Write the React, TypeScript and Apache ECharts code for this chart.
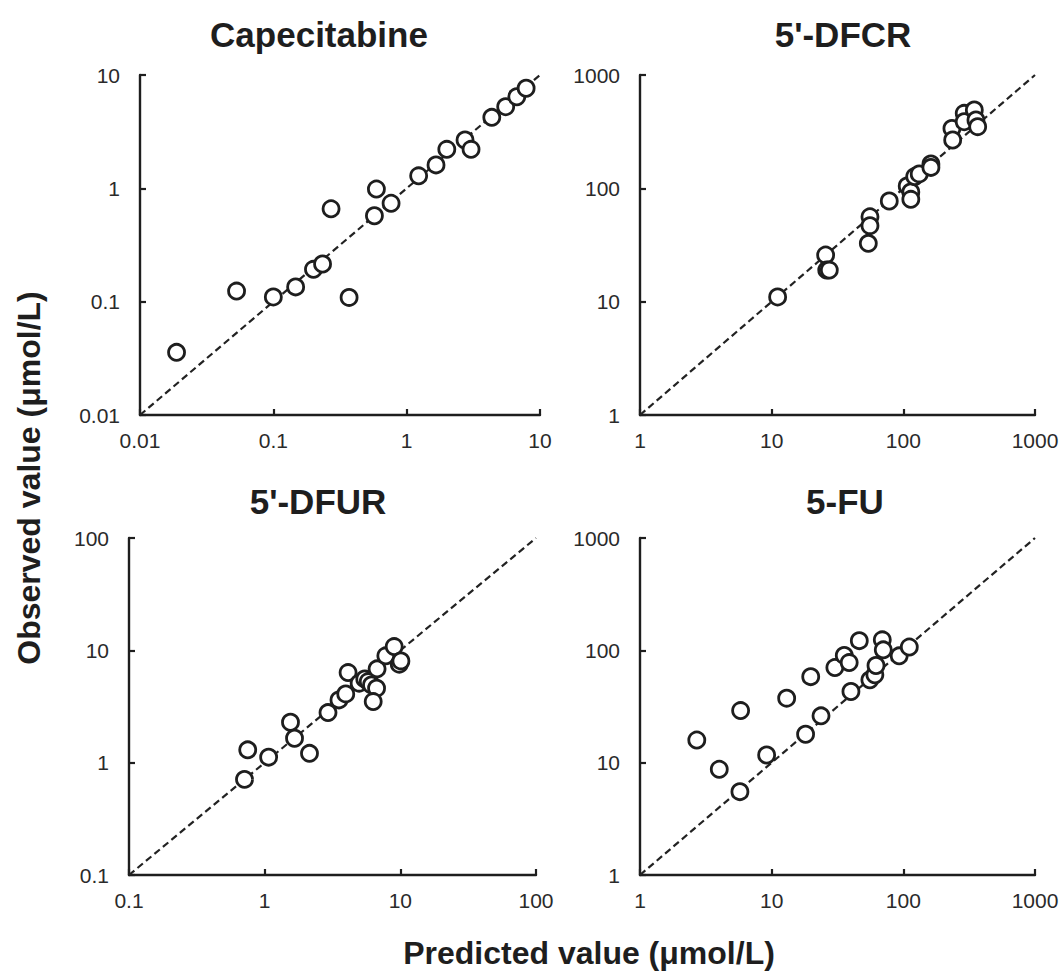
import React, { useEffect, useRef } from "react";
import * as echarts from "echarts";

// ---- Data ----
const titles = ["Capecitabine", "5'-DFCR", "5'-DFUR", "5-FU"];

const capRange = [0.01, 10];
const capX = [0.0188, 0.053, 0.1, 0.147, 0.2, 0.234, 0.271, 0.37, 0.573, 0.593, 0.764, 1.23, 1.66, 2.0, 2.74, 3.04, 4.35, 5.53, 6.7, 7.87];
const capY = [0.0357, 0.124, 0.11, 0.135, 0.193, 0.215, 0.66, 0.109, 0.573, 0.986, 0.738, 1.29, 1.61, 2.21, 2.67, 2.21, 4.23, 5.25, 6.43, 7.64];

const dfcrRange = [1, 1000];
const dfcrX = [11.1, 25.7, 26.2, 27.4, 55.8, 55.8, 54.2, 78.2, 107, 114, 114, 122, 132, 162, 162, 234, 237, 290, 290, 346, 356, 367];
const dfcrY = [11.0, 25.8, 19.0, 19.0, 56.1, 46.8, 32.7, 77.3, 105, 93, 80, 127, 134, 164, 153, 338, 267, 459, 387, 491, 401, 350];

const dfurRange = [0.1, 100];
const dfurX = [0.71, 0.75, 1.07, 1.55, 1.66, 2.14, 2.93, 3.53, 3.96, 4.12, 4.97, 5.47, 5.8, 6.13, 6.68, 6.31, 6.74, 7.82, 9.01, 9.82, 10.1];
const dfurY = [0.71, 1.3, 1.12, 2.29, 1.65, 1.21, 2.79, 3.62, 4.09, 6.34, 5.1, 5.57, 5.27, 4.92, 4.6, 3.5, 6.84, 8.94, 10.8, 7.53, 8.05];

const fuRange = [1, 1000];
const fuX = [2.7, 4.0, 5.74, 5.81, 9.16, 13.0, 18.1, 19.8, 23.7, 30.2, 35.6, 38.8, 40, 46.3, 55.7, 60.8, 62, 69.2, 70.4, 93, 111];
const fuY = [15.9, 8.73, 5.52, 29.1, 11.7, 37.5, 17.9, 58.3, 26.1, 70.3, 90, 77.8, 43, 122, 54.6, 60.5, 73.3, 124, 101, 89.3, 107];

const xAxisTitle = "Predicted value (μmol/L)";
const yAxisTitle = "Observed value (μmol/L)";

const panels = [
  { title: titles[0], range: capRange, xs: capX, ys: capY },
  { title: titles[1], range: dfcrRange, xs: dfcrX, ys: dfcrY },
  { title: titles[2], range: dfurRange, xs: dfurX, ys: dfurY },
  { title: titles[3], range: fuRange, xs: fuX, ys: fuY },
];

// ---- Layout ----
const grids = [
  { left: 140, top: 75, width: 400, height: 340 },
  { left: 640, top: 75, width: 395, height: 340 },
  { left: 129, top: 538, width: 407, height: 337 },
  { left: 640, top: 538, width: 395, height: 337 },
];
const titlePos = [
  { x: 314, y: 12 },
  { x: 838, y: 12 },
  { x: 313, y: 479 },
  { x: 840, y: 479 },
];

const FONT = '"Liberation Sans", Arial, Helvetica, sans-serif';
const INK = "#1e1e1e";

const fmt = (v: number) => String(Number(v.toPrecision(6)));

export default function App() {
  const ref = useRef<HTMLDivElement>(null);
  useEffect(() => {
    document.body.style.margin = "0";
    if (!ref.current) return;
    const chart = echarts.init(ref.current, undefined, { renderer: "svg" });

    const axisCommon = (range: number[]) => ({
      type: "log" as const,
      logBase: 10,
      min: range[0],
      max: range[1],
      interval: 1,
      axisLine: { show: true, lineStyle: { color: INK, width: 2.4 } },
      axisTick: { show: true, inside: true, length: 6, lineStyle: { color: INK, width: 2.2 } },
      splitLine: { show: false },
      axisLabel: {
        show: true,
        color: "#2a2a2a",
        fontSize: 21,
        fontFamily: FONT,
        formatter: (v: number) => fmt(v),
      },
    });

    const xAxis = panels.map((p, i) => ({
      ...axisCommon(p.range),
      gridIndex: i,
      axisLabel: { ...axisCommon(p.range).axisLabel, margin: 15 },
    }));
    const yAxis = panels.map((p, i) => ({
      ...axisCommon(p.range),
      gridIndex: i,
      axisLabel: { ...axisCommon(p.range).axisLabel, margin: 20 },
    }));

    const series: any[] = [];
    panels.forEach((p, i) => {
      series.push({
        type: "line",
        xAxisIndex: i,
        yAxisIndex: i,
        data: [
          [p.range[0], p.range[0]],
          [p.range[1], p.range[1]],
        ],
        symbol: "none",
        silent: true,
        z: 1,
        lineStyle: { color: "#222222", width: 2.2, type: [7, 4] },
      });
      series.push({
        type: "scatter",
        xAxisIndex: i,
        yAxisIndex: i,
        data: p.xs.map((x, k) => [x, p.ys[k]]),
        symbol: "circle",
        symbolSize: 16,
        z: 3,
        itemStyle: { color: "#ffffff", borderColor: INK, borderWidth: 2.8, opacity: 1 },
      });
    });

    chart.setOption({
      animation: false,
      backgroundColor: "#ffffff",
      title: panels.map((p, i) => ({
        text: p.title,
        left: titlePos[i].x,
        top: titlePos[i].y,
        textAlign: "center",
        textStyle: { fontSize: 35, fontWeight: "bold", color: INK, fontFamily: FONT },
      })),
      grid: grids.map((g) => ({ ...g, containLabel: false })),
      xAxis,
      yAxis,
      series,
      graphic: [
        {
          type: "text",
          x: 589,
          y: 953,
          style: {
            text: xAxisTitle,
            font: `bold 32px ${FONT}`,
            fill: INK,
            align: "center",
            verticalAlign: "middle",
          },
        },
        {
          type: "text",
          x: 29,
          y: 478,
          rotation: Math.PI / 2,
          style: {
            text: yAxisTitle,
            font: `bold 32px ${FONT}`,
            fill: INK,
            align: "center",
            verticalAlign: "middle",
          },
        },
      ],
    });
    return () => chart.dispose();
  }, []);
  return <div ref={ref} style={{ width: 1064, height: 972 }} />;
}
